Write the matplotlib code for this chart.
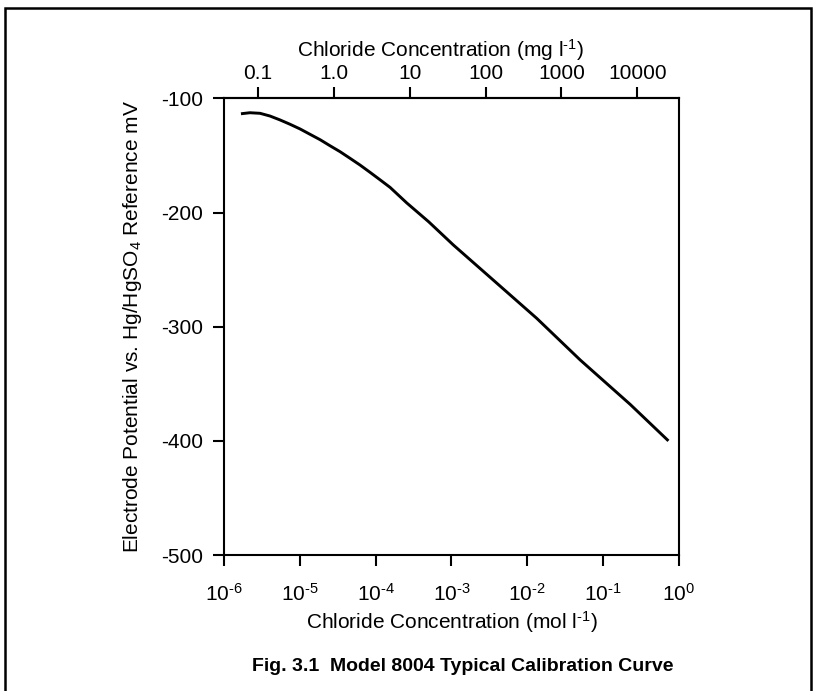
import numpy as np
import matplotlib
matplotlib.use("Agg")
import matplotlib.pyplot as plt
from matplotlib.patches import Rectangle
from matplotlib.ticker import NullLocator, FixedLocator, FixedFormatter

plt.rcParams['font.family'] = ['Liberation Sans', 'DejaVu Sans']
plt.rcParams['mathtext.fontset'] = 'custom'
plt.rcParams['mathtext.rm'] = 'Liberation Sans'
plt.rcParams['mathtext.it'] = 'Liberation Sans:italic'
plt.rcParams['mathtext.bf'] = 'Liberation Sans:bold'
plt.rcParams['axes.unicode_minus'] = False

# calibration curve (mol/l, mV)
conc_mol = [1.675e-6, 2.2e-6, 2.99e-6, 4.05e-6, 5.48e-6, 7.43e-6, 1.007e-5,
            1.364e-5, 1.85e-5, 2.5e-5, 3.39e-5, 4.59e-5, 6.22e-5, 8.43e-5,
            1.14e-4, 1.55e-4, 2.57e-4, 5.0e-4, 1.06e-3, 3.3e-3, 1.33e-2,
            4.98e-2, 0.227, 0.726]
potential_mv = [-113.4, -112.5, -113.0, -115.4, -118.8, -122.6, -126.7,
                -131.4, -136.1, -141.4, -146.6, -152.4, -158.3, -164.7,
                -171.2, -177.9, -191.5, -208.0, -228.4, -257.2, -292.6,
                -329.1, -368.0, -400.0]

y_ticks = [-500, -400, -300, -200, -100]
x_ticks = [1e-6, 1e-5, 1e-4, 1e-3, 1e-2, 1e-1, 1e0]
x_labels = [r'$10^{\text{-6}}$', r'$10^{\text{-5}}$', r'$10^{\text{-4}}$', r'$10^{\text{-3}}$',
            r'$10^{\text{-2}}$', r'$10^{\text{-1}}$', r'$10^{0}$']
mg_ticks = [0.1, 1.0, 10, 100, 1000, 10000]
mg_labels = ['0.1', '1.0', '10', '100', '1000', '10000']
CL_MW = 35453.0  # mg per mol of chloride

fig = plt.figure(figsize=(8.15, 6.91), dpi=100)
ax = fig.add_axes([0.2748, 0.1968, 0.5583, 0.6607])

ax.plot(conc_mol, potential_mv, color='black', lw=2.1, solid_capstyle='butt')

ax.set_xscale('log')
ax.set_xlim(1e-6, 1)
ax.set_ylim(-500, -100)
ax.set_xticks(x_ticks)
ax.set_xticklabels(x_labels)
ax.set_yticks(y_ticks)
ax.xaxis.set_minor_locator(NullLocator())
ax.tick_params(direction='out', length=8, width=1.5, labelsize=15, pad=7)
ax.tick_params(axis='x', pad=12)
for s in ax.spines.values():
    s.set_linewidth(1.5)

ax.set_xlabel(r'Chloride Concentration (mol l$^{\text{-1}}$)', fontsize=15, labelpad=3)
ax.set_ylabel(r'Electrode Potential vs. Hg/HgSO$_4$ Reference mV', fontsize=15, labelpad=12)

sec = ax.secondary_xaxis('top', functions=(lambda c: c * CL_MW, lambda m: m / CL_MW))
sec.xaxis.set_major_locator(FixedLocator(mg_ticks))
sec.xaxis.set_major_formatter(FixedFormatter(mg_labels))
sec.xaxis.set_minor_locator(NullLocator())
sec.tick_params(direction='out', length=8, width=1.5, labelsize=15, pad=3)
sec.spines['top'].set_linewidth(1.5)
sec.set_xlabel(r'Chloride Concentration (mg l$^{\text{-1}}$)', fontsize=15, labelpad=5)
sec.xaxis.label.set_x(0.476)

fig.text(0.568, 0.035, 'Fig. 3.1  Model 8004 Typical Calibration Curve',
         ha='center', va='center', fontsize=14, fontweight='bold')

fig.add_artist(Rectangle((0.0061, -0.05), 0.9889, 1.0384, transform=fig.transFigure,
                         fill=False, lw=1.8, edgecolor='black'))

fig.savefig('out.png', dpi=100)
